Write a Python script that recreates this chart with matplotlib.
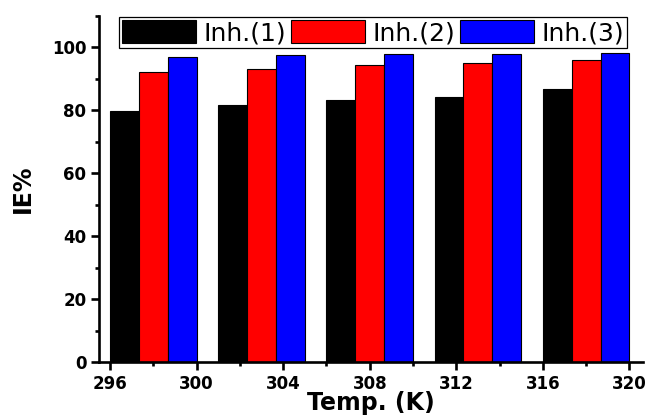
"""
plot.py
=======
Grouped bar chart of inhibition efficiency (IE%) vs temperature for the
three inhibitors. Saves out.png (about 649x415 px).
"""
import matplotlib
matplotlib.use('Agg')
import matplotlib.pyplot as plt
import matplotlib.ticker as mticker
import numpy as np


# ---------------------------------------------------------------------------
# Data
# ---------------------------------------------------------------------------

temps = [298, 303, 308, 313, 318]
ie_inh1 = [79.8, 81.7, 83.2, 84.3, 86.8]
ie_inh2 = [92.2, 93.3, 94.4, 95.0, 96.1]
ie_inh3 = [96.9, 97.5, 97.8, 97.9, 98.3]
series_labels = ['Inh.(1)', 'Inh.(2)', 'Inh.(3)']
series_colors = ['#000000', '#ff0000', '#0000ff']
x_ticks = [296, 300, 304, 308, 312, 316, 320]
y_ticks = [0, 20, 40, 60, 80, 100]


def make_figure(out_path='out.png'):
    fig = plt.figure(figsize=(6.49, 4.15), dpi=100)
    ax = fig.add_axes([0.1525, 0.127, 0.8383, 0.8344])

    bar_w = 4 / 3
    x = np.array(temps, dtype=float)
    for i, (vals, lab, col) in enumerate(zip([ie_inh1, ie_inh2, ie_inh3],
                                             series_labels, series_colors)):
        ax.bar(x + (i - 1) * bar_w, vals, width=bar_w, color=col,
               edgecolor='black', linewidth=0.8, label=lab, zorder=2)

    ax.set_xlim(295.49, 320.63)
    ax.set_ylim(0, 110)
    ax.set_xticks(x_ticks)
    ax.set_yticks(y_ticks)
    ax.xaxis.set_minor_locator(mticker.MultipleLocator(2))
    ax.yaxis.set_minor_locator(mticker.MultipleLocator(10))

    for side in ('top', 'right'):
        ax.spines[side].set_visible(False)
    for side in ('left', 'bottom'):
        ax.spines[side].set_linewidth(1.9)

    ax.tick_params(axis='both', which='major', direction='out', length=6,
                   width=1.9, labelsize=12, pad=3)
    ax.tick_params(axis='both', which='minor', direction='out', length=3,
                   width=1.9)
    for lbl in ax.get_xticklabels() + ax.get_yticklabels():
        lbl.set_fontweight('bold')
        lbl.set_family('DejaVu Sans')

    ax.set_xlabel('Temp. (K)', fontsize=17, fontweight='bold', labelpad=-1)
    ax.set_ylabel('IE%', fontsize=17, fontweight='bold', labelpad=12)

    leg = ax.legend(loc='upper left', bbox_to_anchor=(119 / 649, 1 - 17 / 415),
                    bbox_transform=fig.transFigure, ncol=3, fontsize=18,
                    frameon=True, fancybox=False, framealpha=1,
                    edgecolor='black', borderpad=0.12, handlelength=2.95,
                    handleheight=1.05, handletextpad=0.3, columnspacing=0.2,
                    borderaxespad=0)
    leg.get_frame().set_linewidth(0.9)
    for t in leg.get_texts():
        t.set_family('DejaVu Sans')

    fig.savefig(out_path, dpi=100)


if __name__ == '__main__':
    make_figure()
